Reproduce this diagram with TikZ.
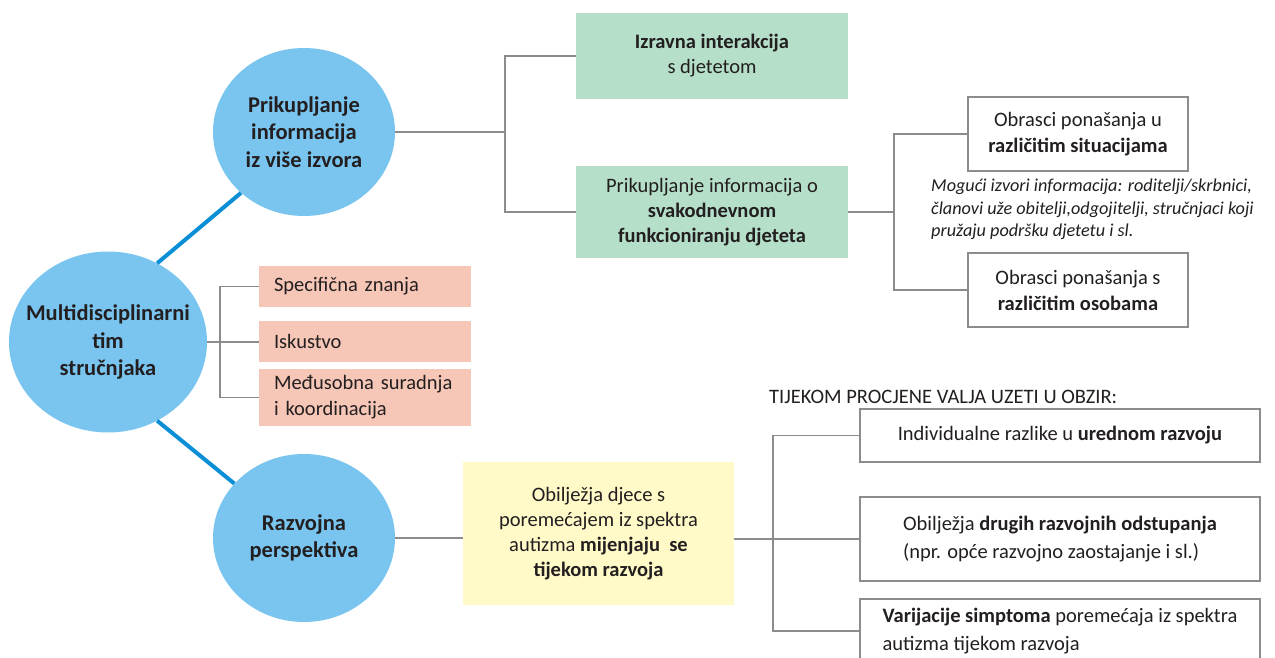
\documentclass[tikz,border=0pt]{standalone}
\usepackage{fontspec}
\setmainfont{Carlito}
\usetikzlibrary{shapes.geometric}
\definecolor{bub}{RGB}{121,197,240}
\definecolor{bline}{RGB}{10,143,214}
\definecolor{grn}{RGB}{181,223,201}
\definecolor{pnk}{RGB}{246,198,182}
\definecolor{yel}{RGB}{255,250,200}
\definecolor{gline}{RGB}{140,140,140}
\definecolor{txt}{RGB}{35,31,32}
\begin{document}
\begin{tikzpicture}[x=1pt,y=-1pt,
  every node/.style={text=txt, inner sep=0pt},
  bubble/.style={ellipse, fill=bub},
  btext/.style={align=center, font=\fontsize{22.5}{27.5}\selectfont\bfseries},
  gbox/.style={fill=grn, minimum width=272pt, align=center, font=\fontsize{20.5}{25}\selectfont},
  wbox/.style={draw=gline, line width=1.1pt, fill=white, minimum width=220pt, align=center, font=\fontsize{20.5}{26}\selectfont},
  pbox/.style={fill=pnk, minimum width=212pt, text width=182pt, inner xsep=15pt, align=left, font=\fontsize{20.5}{26}\selectfont},
  rbox/.style={draw=gline, line width=1.1pt, fill=white, minimum width=400pt, font=\fontsize{20.5}{28}\selectfont},
  gl/.style={draw=gline, line width=1.1pt},
  bl/.style={draw=bline, line width=4pt}]
\useasboundingbox (0,0) rectangle (1275,658);
\fill[white] (0,0) rectangle (1275,658);
\clip (0,0) rectangle (1275,658);
% circles
\node[bubble, minimum width=182pt, minimum height=168pt] (top) at (304,132) {};
\node[btext] (topT) at (top.center) {Prikupljanje\\informacija\\iz više izvora};
\node[bubble, minimum width=198pt, minimum height=181pt] (multi) at (108,342) {};
\node[btext] (multiT) at (multi.center) {Multidisciplinarni\\tim\\stručnjaka};
\node[bubble, minimum width=182pt, minimum height=168pt] (razv) at (304,538) {};
\node[btext] (razvT) at (razv.center) {Razvojna\\perspektiva};
\draw[bl] (multi.58) -- (top.224);
\draw[bl] (multi.302) -- (razv.142);
% green boxes
\node[gbox, minimum height=86pt] (izr) at (712,56) {\textbf{Izravna interakcija}\\s djetetom};
\node[gbox, minimum height=92pt] (prik) at (712,212) {Prikupljanje informacija o\\\textbf{svakodnevnom}\\\textbf{funkcioniranju djeteta}};
% white boxes top right
\node[wbox, minimum height=74pt] (ob1) at (1078,134) {Obrasci ponašanja u\\\textbf{različitim situacijama}};
\node[wbox, minimum height=74pt] (ob2) at (1078,290) {Obrasci ponašanja s\\\textbf{različitim osobama}};
\node[anchor=west, align=left, font=\fontsize{18.2}{22.5}\selectfont\itshape] (izv) at (931,209.5) {Mogući izvori informacija: roditelji/skrbnici,\\članovi uže obitelji,odgojitelji, stručnjaci koji\\pružaju podršku djetetu i sl.};
% pink boxes
\node[pbox, minimum height=41pt] (spec) at (365,286.5) {Specifična znanja};
\node[pbox, minimum height=41pt] (isk) at (365,341.5) {Iskustvo};
\node[pbox, minimum height=57pt] (med) at (365,397.5) {Međusobna suradnja\\i koordinacija};
% yellow box
\node[fill=yel, minimum width=271pt, minimum height=143pt, align=center, font=\fontsize{20.5}{25}\selectfont] (yel) at (598.5,533.5) {Obilježja djece s\\poremećajem iz spektra\\autizma \textbf{mijenjaju\ \ se}\\\textbf{tijekom razvoja}};
% right boxes
\node[anchor=west, font=\fontsize{20.5}{25}\selectfont] (head) at (769,397) {TIJEKOM PROCJENE VALJA UZETI U OBZIR:};
\node[rbox, minimum height=53pt] (ra) at (1060,435.5) {Individualne razlike u \textbf{urednom razvoju}};
\node[rbox, minimum height=84pt, align=left] (rb) at (1060,539) {Obilježja \textbf{drugih razvojnih odstupanja}\\(npr. opće razvojno zaostajanje i sl.)};
\node[rbox, minimum height=64pt, align=left] (rc) at (1060,631) {\textbf{Varijacije simptoma} poremećaja iz spektra\\autizma tijekom razvoja};
% connectors
\coordinate (k1) at (505,0);
\coordinate (k2) at (894,0);
\coordinate (k3) at (220,0);
\coordinate (k4) at (773,0);
\draw[gl] (top.east) -- (top.east -| k1);
\draw[gl] (izr.west) -| (k1 |- prik.west) -- (prik.west);
\draw[gl] (prik.east) -- (prik.east -| k2);
\draw[gl] (ob1.west) -| (k2 |- ob2.west) -- (ob2.west);
\draw[gl] (multi.east) -- (multi.east -| spec.west);
\draw[gl] (spec.west) -| (k3 |- med.west) -- (med.west);
\draw[gl] (razv.east) -- (razv.east -| yel.west);
\draw[gl] (rb.west -| yel.east) -- (rb.west);
\draw[gl] (ra.west) -| (k4 |- rc.west) -- (rc.west);
\end{tikzpicture}
\end{document}
